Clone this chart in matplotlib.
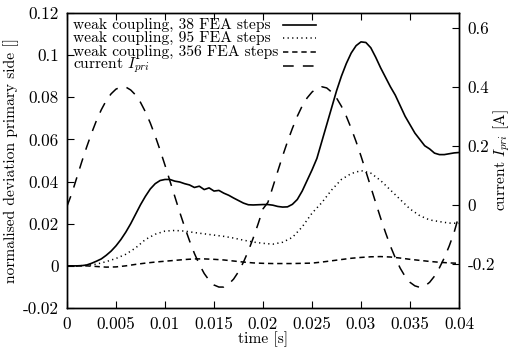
import numpy as np
import matplotlib
matplotlib.use("Agg")
import matplotlib.pyplot as plt
from matplotlib.lines import Line2D

plt.rcParams['font.family'] = 'serif'
plt.rcParams['font.serif'] = ['cmr10', 'DejaVu Serif']
plt.rcParams['mathtext.fontset'] = 'cm'
plt.rcParams['axes.unicode_minus'] = False
plt.rcParams['font.size'] = 11.2

# time bases [s]
t_fine = np.linspace(0.0, 0.04, 81)
t_coarse = np.linspace(0.0, 0.04, 41)

# weak coupling, 38 FEA steps (left axis), every 0.5 ms
dev_38 = [
    0.0, 0.0, 0.0, 0.0001, 0.0004, 0.0012, 0.0022, 0.0033, 0.0050, 0.0070,
    0.0095, 0.0125, 0.0160, 0.0200, 0.0245, 0.0290, 0.0330, 0.0365, 0.0390,
    0.0405, 0.0410, 0.0410, 0.0402, 0.0398, 0.0390, 0.0384, 0.0372, 0.0378,
    0.0362, 0.0370, 0.0355, 0.0358, 0.0345, 0.0335, 0.0322, 0.0310, 0.0298,
    0.0290, 0.0289, 0.0290, 0.0291, 0.0291, 0.0288, 0.0282, 0.0279, 0.0280,
    0.0292, 0.0315, 0.0355, 0.0405, 0.0455, 0.0510, 0.0590, 0.0670, 0.0750,
    0.0830, 0.0900, 0.0960, 0.1010, 0.1045, 0.1063, 0.1060, 0.1035, 0.0990,
    0.0940, 0.0895, 0.0850, 0.0810, 0.0760, 0.0710, 0.0670, 0.0630, 0.0600,
    0.0570, 0.0555, 0.0535, 0.0528, 0.0528, 0.0532, 0.0536, 0.0538,
]

# weak coupling, 95 FEA steps (left axis), every 1 ms
dev_95 = [
    0.0, 0.0, 0.0002, 0.0008, 0.0020, 0.0035, 0.0055, 0.0085, 0.0125, 0.0150,
    0.0165, 0.0168, 0.0165, 0.0158, 0.0152, 0.0146, 0.0140, 0.0132, 0.0122,
    0.0113, 0.0107, 0.0103, 0.0112, 0.0135, 0.0185, 0.0250, 0.0300, 0.0360,
    0.0410, 0.0438, 0.0452, 0.0440, 0.0405, 0.0360, 0.0315, 0.0270, 0.0238,
    0.0218, 0.0210, 0.0203, 0.0202,
]

# weak coupling, 356 FEA steps (left axis), every 1 ms
dev_356 = [
    0.0, 0.0, 0.0, -0.0003, -0.0006, -0.0005, 0.0, 0.0007, 0.0013, 0.0018,
    0.0022, 0.0026, 0.0030, 0.0033, 0.0033, 0.0031, 0.0028, 0.0023, 0.0018,
    0.0014, 0.0012, 0.0011, 0.0011, 0.0011, 0.0012, 0.0013, 0.0018, 0.0024,
    0.0030, 0.0036, 0.0040, 0.0043, 0.0044, 0.0042, 0.0037, 0.0031, 0.0026,
    0.0021, 0.0017, 0.0014, 0.0012,
]

# primary current [A] (right axis), every 0.5 ms
i_pri = [
    -0.005, 0.039, 0.092, 0.145, 0.195, 0.242, 0.285, 0.322, 0.353, 0.376,
    0.392, 0.399, 0.399, 0.389, 0.372, 0.347, 0.315, 0.277, 0.233, 0.185,
    0.134, 0.081, 0.028, -0.025, -0.075, -0.122, -0.165, -0.202, -0.233,
    -0.256, -0.272, -0.279, -0.279, -0.269, -0.252, -0.227, -0.195, -0.157,
    -0.113, -0.065, -0.014,
    0.008, 0.060, 0.113, 0.165, 0.214, 0.259, 0.300, 0.335, 0.362, 0.382,
    0.395, 0.400, 0.396, 0.382, 0.362, 0.334, 0.300, 0.259, 0.214, 0.165,
    0.113, 0.060, 0.007, -0.045, -0.094, -0.140, -0.180, -0.215, -0.243,
    -0.263, -0.275, -0.280, -0.276, -0.263, -0.242, -0.214, -0.180, -0.140,
    -0.094, -0.035,
]

x_ticks = [0, 0.005, 0.01, 0.015, 0.02, 0.025, 0.03, 0.035, 0.04]
x_labels = ['0', '0.005', '0.01', '0.015', '0.02', '0.025', '0.03', '0.035', '0.04']
y_ticks = [-0.02, 0, 0.02, 0.04, 0.06, 0.08, 0.1, 0.12]
y_labels = ['-0.02', '0', '0.02', '0.04', '0.06', '0.08', '0.1', '0.12']
y2_ticks = [-0.2, 0, 0.2, 0.4, 0.6]
y2_labels = ['-0.2', '0', '0.2', '0.4', '0.6']

labels = ['weak coupling, 38 FEA steps', 'weak coupling, 95 FEA steps',
          'weak coupling, 356 FEA steps', 'current $I_{pri}$']

fig = plt.figure(figsize=(5.13, 3.49), dpi=100)
ax = fig.add_axes([67 / 513, 1 - 308 / 349, 392 / 513, 295 / 349])
ax2 = ax.twinx()

styles = [
    dict(ls='-', lw=1.2),
    dict(ls=(0, (0.8, 2.2)), lw=1.1),
    dict(ls=(0, (3.5, 2.5)), lw=1.1),
    dict(ls=(0, (7.0, 6.0)), lw=1.1),
]

ax.plot(t_fine, dev_38, color='black', **styles[0])
ax.plot(t_coarse, dev_95, color='black', **styles[1])
ax.plot(t_coarse, dev_356, color='black', **styles[2])
ax2.plot(t_fine, i_pri, color='black', **styles[3])

ax.set_xlim(0, 0.04)
ax.set_ylim(-0.02, 0.12)
ax2.set_ylim(-0.35, 0.65)

ax.set_xticks(x_ticks)
ax.set_xticklabels(x_labels)
ax.set_yticks(y_ticks)
ax.set_yticklabels(y_labels)
ax2.set_yticks(y2_ticks)
ax2.set_yticklabels(y2_labels)

for a in (ax, ax2):
    a.tick_params(direction='in', length=5, width=0.8, pad=6, labelsize=12.3)
    for s in a.spines.values():
        s.set_linewidth(1.0)
ax.tick_params(top=True)

ax.set_xlabel('time [s]', labelpad=0)
ax.set_ylabel('normalised deviation primary side []')
ax2.set_ylabel('current $I_{pri}$ [A]')
ax.yaxis.set_label_coords(-0.122, 0.5)
ax2.yaxis.set_label_coords(1.084, 0.5)

# key, gnuplot style: text left, sample on the right
row_y = [0.959, 0.914, 0.868, 0.822]
for i, lab in enumerate(labels):
    ax.text(0.015, row_y[i], lab, transform=ax.transAxes, va='center', ha='left')
    ax.add_line(Line2D([0.551, 0.636], [row_y[i], row_y[i]], transform=ax.transAxes,
                       color='black', **styles[i]))

fig.savefig('out.png', dpi=100)
